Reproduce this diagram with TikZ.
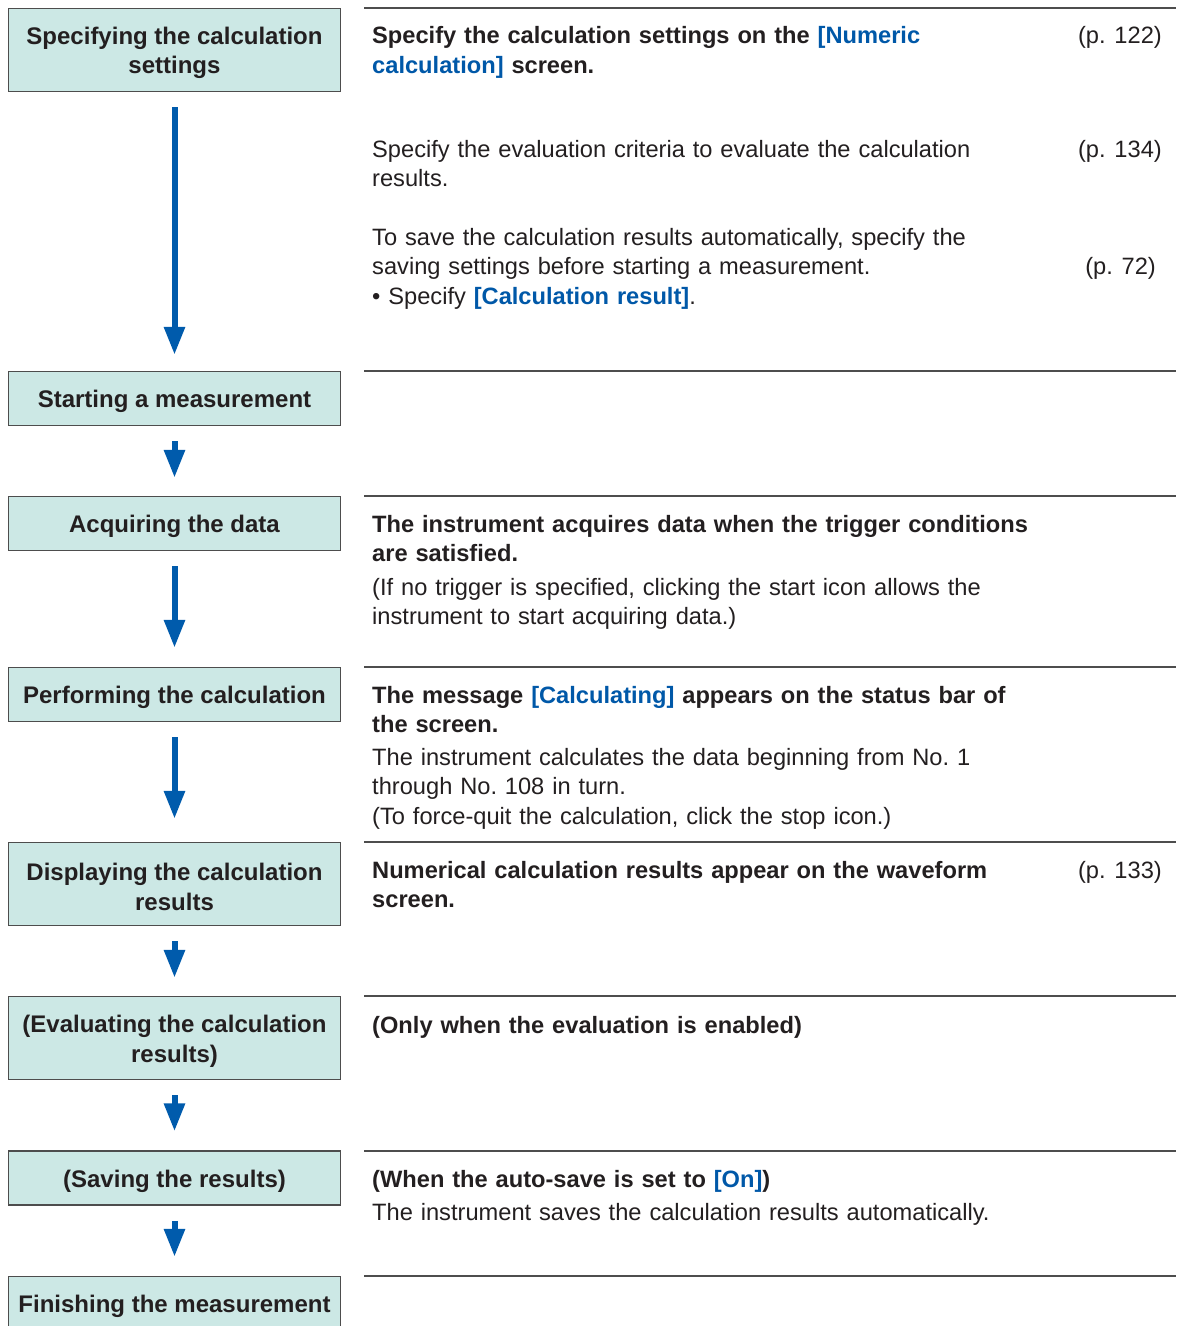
\documentclass[tikz,border=0pt]{standalone}
\usepackage{fontspec}
\setmainfont{Liberation Sans}
\usepackage{xcolor}
\usetikzlibrary{arrows.meta}

\definecolor{stepfill}{HTML}{CCE8E5}
\definecolor{stepline}{HTML}{4D4D4D}
\definecolor{flowblue}{HTML}{005BAC}
\definecolor{keyblue}{HTML}{0058A8}
\definecolor{textdark}{HTML}{231F20}

\newcommand{\keyword}[1]{\textcolor{keyblue}{\textbf{#1}}}
\newcommand{\topgap}{\rule{0pt}{23.5pt}}

\begin{document}
\begin{tikzpicture}[x=1pt, y=-1pt, text=textdark,
  font=\fontsize{23.65}{29.5}\selectfont,
  stepbox/.style={draw=stepline, line width=1.5pt, fill=stepfill,
    minimum width=332pt, inner sep=0pt, align=center,
    font=\fontsize{24}{29.5}\selectfont\bfseries},
  flow/.style={draw=flowblue, line width=6pt,
    -{Triangle[width=20pt,length=28pt]}, shorten <=15pt},
  sepline/.style={draw=stepline, line width=1.5pt},
  note/.style={anchor=base west, inner sep=0pt, text width=720pt, align=left},
  notebold/.style={note, font=\fontsize{23.65}{29.5}\selectfont\bfseries},
  pageref/.style={anchor=base east, inner sep=0pt}]
  \useasboundingbox (0,0) rectangle (1176,1326);
  \clip (0,0) rectangle (1176,1326);

  % Steps (left column)
  \node[stepbox, minimum height=83pt] (specify) at (174.5,50)
    {\topgap Specifying the calculation\\settings};
  \node[stepbox, minimum height=54pt] (start) at (174.5,398.5)
    {\topgap Starting a measurement};
  \node[stepbox, minimum height=54pt] (acquire) at (174.5,523.5)
    {\topgap Acquiring the data};
  \node[stepbox, minimum height=54pt] (perform) at (174.5,694.5)
    {\topgap Performing the calculation};
  \node[stepbox, minimum height=83pt] (display) at (174.5,884)
    {\topgap Displaying the calculation\\results};
  \node[stepbox, minimum height=83pt] (evaluate) at (174.5,1038)
    {\topgap (Evaluating the calculation\\results)};
  \node[stepbox, minimum height=54pt] (save) at (174.5,1178)
    {\topgap (Saving the results)};
  \node[stepbox, minimum height=54pt] (finish) at (174.5,1303.5)
    {\topgap Finishing the measurement};

  % Flow arrows
  \foreach \a/\b/\gap in {specify/start/16, start/acquire/18, acquire/perform/19,
      perform/display/23, display/evaluate/18, evaluate/save/19, save/finish/19} {
    \draw[flow, shorten >=\gap pt] (\a.south) -- (\b.north);
  }

  % Separator lines (right column)
  \foreach \y in {8, 371, 496, 667, 842, 996, 1151, 1276} {
    \draw[sepline] (364,\y) -- (1176,\y);
  }

  % Descriptions
  \node[notebold] (specifytxt) at (372,43.5)
    {Specify the calculation settings on the \keyword{[Numeric}\\\keyword{calculation]} screen.};
  \node[pageref] (ref122) at (1162,43.5) {(p. 122)};
  \node[note] (criteria) at (372,157)
    {Specify the evaluation criteria to evaluate the calculation\\results.};
  \node[pageref] (ref134) at (1162,157) {(p. 134)};
  \node[note] (autosave) at (372,245)
    {To save the calculation results automatically, specify the\\saving settings before starting a measurement.\\\textbullet\ Specify \keyword{[Calculation result]}.};
  \node[pageref] (ref72) at (1156,274.5) {(p. 72)};

  \node[notebold] (acquiretxt) at (372,532)
    {The instrument acquires data when the trigger conditions\\are satisfied.};
  \node[note] (trigger) at (372,595)
    {(If no trigger is specified, clicking the start icon allows the\\instrument to start acquiring data.)};

  \node[notebold] (performtxt) at (372,703)
    {The message \keyword{[Calculating]} appears on the status bar of\\the screen.};
  \node[note] (calcinfo) at (372,765)
    {The instrument calculates the data beginning from No.~1\\through No.~108 in turn.\\(To force-quit the calculation, click the stop icon.)};

  \node[notebold] (displaytxt) at (372,878)
    {Numerical calculation results appear on the waveform\\screen.};
  \node[pageref] (ref133) at (1162,878) {(p. 133)};

  \node[notebold] (evaluatetxt) at (372,1033)
    {(Only when the evaluation is enabled)};

  \node[notebold] (savetxt) at (372,1187)
    {(When the auto-save is set to \keyword{[On]})};
  \node[note] (saveinfo) at (372,1220)
    {The instrument saves the calculation results automatically.};
\end{tikzpicture}
\end{document}
